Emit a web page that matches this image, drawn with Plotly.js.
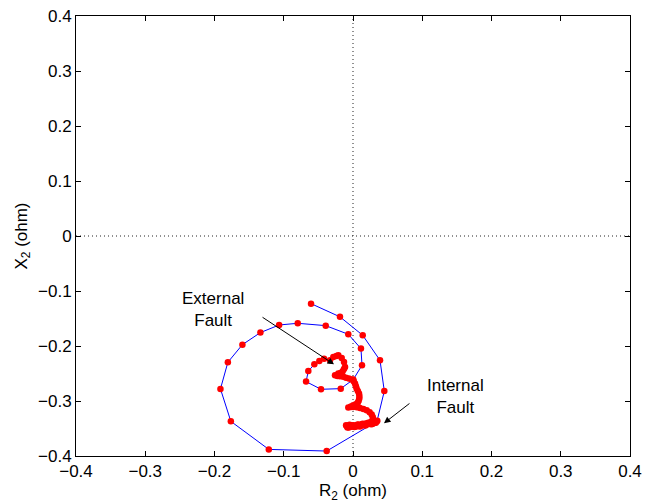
<!DOCTYPE html>
<html>
<head>
<meta charset="utf-8">
<script src="https://cdn.plot.ly/plotly-3.0.1.min.js"></script>
<style>html,body{margin:0;padding:0;background:#fff;}#chart{width:651px;height:503px;}</style>
</head>
<body>
<div id="chart"></div>
<script>
// Negative-sequence impedance trajectory R2 (ohm) vs X2 (ohm)
var R2 = [
  -0.0606, -0.0188, 0.0140, 0.0390, 0.0452, 0.0346,
  -0.0380, -0.1216, -0.1764, -0.1914, -0.1807, -0.1597, -0.1337, -0.1067,
  -0.0798, -0.0394, -0.0068, 0.0115, 0.0130, 0.0004, -0.0177, -0.0462,
  -0.0678, -0.0645, -0.0558, -0.0486,
  -0.0418, -0.0332, -0.0284, -0.0240, -0.0212, -0.0163, -0.0130, -0.0115,
  -0.0130, -0.0149, -0.0180, -0.0212, -0.0260, -0.0225, -0.0188, -0.0140,
  -0.0101, -0.0060, -0.0019, 0.0010, 0.0029, 0.0042, 0.0053, 0.0070,
  0.0087, 0.0092, 0.0091, 0.0082, 0.0068, 0.0040, 0.0004, -0.0030,
  -0.0068, -0.0030, 0.0004, 0.0055, 0.0101, 0.0150, 0.0198, 0.0240,
  0.0270, 0.0285, 0.0293, 0.0275, 0.0245, 0.0185, 0.0126, 0.0065,
  0.0004, -0.0045, -0.0091, -0.0060, -0.0030, 0.0020, 0.0060, 0.0100,
  0.0140, 0.0180, 0.0220, 0.0260, 0.0300, 0.0330, 0.0350, 0.0310,
  0.0270, 0.0200, 0.0120, 0.0050, -0.0020, -0.0080, -0.0100, -0.0050,
  0.0010, 0.0080, 0.0150, 0.0220, 0.0280
];
var X2 = [
  -0.1230, -0.1470, -0.1805, -0.2260, -0.2820, -0.3370,
  -0.3910, -0.3880, -0.3370, -0.2780, -0.2296, -0.1975, -0.1756, -0.1618,
  -0.1587, -0.1630, -0.1787, -0.2047, -0.2350, -0.2610, -0.2775, -0.2787,
  -0.2647, -0.2455, -0.2333, -0.2273,
  -0.2233, -0.2260, -0.2200, -0.2180, -0.2169, -0.2218, -0.2290, -0.2380,
  -0.2420, -0.2460, -0.2490, -0.2500, -0.2530, -0.2545, -0.2550, -0.2560,
  -0.2575, -0.2590, -0.2610, -0.2640, -0.2680, -0.2730, -0.2775, -0.2820,
  -0.2865, -0.2910, -0.2956, -0.2995, -0.3030, -0.3060, -0.3078, -0.3100,
  -0.3120, -0.3110, -0.3110, -0.3115, -0.3127, -0.3145, -0.3170, -0.3205,
  -0.3247, -0.3290, -0.3330, -0.3365, -0.3390, -0.3410, -0.3424, -0.3435,
  -0.3440, -0.3448, -0.3455, -0.3480, -0.3440, -0.3472, -0.3430, -0.3462,
  -0.3415, -0.3446, -0.3395, -0.3422, -0.3375, -0.3396, -0.3360, -0.3402,
  -0.3408, -0.3428, -0.3440, -0.3462, -0.3470, -0.3482, -0.3440, -0.3430,
  -0.3452, -0.3425, -0.3442, -0.3405, -0.3420
];

var tickVals = [-0.4, -0.3, -0.2, -0.1, 0, 0.1, 0.2, 0.3, 0.4];
var tickText = ['\u22120.4', '\u22120.3', '\u22120.2', '\u22120.1', '0', '0.1', '0.2', '0.3', '0.4'];

var FONT = 'Liberation Sans, Arial, Helvetica, sans-serif';
var FS = 17;

var trace = {
  x: R2, y: X2,
  type: 'scatter', mode: 'lines+markers',
  line: {color: '#0000ff', width: 1},
  marker: {color: '#ff0000', size: 6.5, line: {width: 0}},
  hoverinfo: 'none', showlegend: false
};

var axisCommon = {
  range: [-0.4, 0.4],
  tickvals: tickVals, ticktext: tickText,
  ticks: 'inside', ticklen: 5, tickwidth: 1, tickcolor: '#000',
  showline: true, linecolor: '#000', linewidth: 1, mirror: 'ticks',
  showgrid: false, zeroline: false, fixedrange: true,
  tickfont: {family: FONT, size: FS, color: '#000'}
};

var layout = {
  width: 651, height: 503,
  margin: {l: 76, r: 21, t: 16, b: 47},
  paper_bgcolor: '#fff', plot_bgcolor: '#fff',
  font: {family: FONT, size: FS, color: '#000'},
  xaxis: Object.assign({}, axisCommon, {
    title: {text: 'R<sub>2</sub> (ohm)', font: {family: FONT, size: FS, color: '#000'}, standoff: 3}
  }),
  yaxis: Object.assign({}, axisCommon, {
    title: {text: 'X<sub>2</sub> (ohm)', font: {family: FONT, size: FS, color: '#000'}, standoff: 6}
  }),
  shapes: [
    {type: 'line', xref: 'x', yref: 'y', x0: 0, x1: 0, y0: -0.4, y1: 0.4,
     line: {color: '#222', width: 1, dash: '1px,3px'}, layer: 'below'},
    {type: 'line', xref: 'x', yref: 'y', x0: -0.4, x1: 0.4, y0: 0, y1: 0,
     line: {color: '#222', width: 1, dash: '1px,3px'}, layer: 'below'}
  ],
  annotations: [
    {x: -0.202, y: -0.134, xref: 'x', yref: 'y', text: 'External<br>Fault', showarrow: false,
     font: {family: FONT, size: FS, color: '#000'}, align: 'center'},
    {x: 0.148, y: -0.2925, xref: 'x', yref: 'y', text: 'Internal<br>Fault', showarrow: false,
     font: {family: FONT, size: FS, color: '#000'}, align: 'center'},
    {x: -0.0274, y: -0.2333, xref: 'x', yref: 'y', axref: 'x', ayref: 'y', ax: -0.1328, ay: -0.146,
     text: '', showarrow: true, arrowhead: 2, arrowsize: 1.3, arrowwidth: 1, arrowcolor: '#000'},
    {x: 0.0447, y: -0.3405, xref: 'x', yref: 'y', axref: 'x', ayref: 'y', ax: 0.0837, ay: -0.3024,
     text: '', showarrow: true, arrowhead: 2, arrowsize: 1.3, arrowwidth: 1, arrowcolor: '#000'}
  ]
};

Plotly.newPlot('chart', [trace], layout, {displayModeBar: false, staticPlot: true});
</script>
</body>
</html>
